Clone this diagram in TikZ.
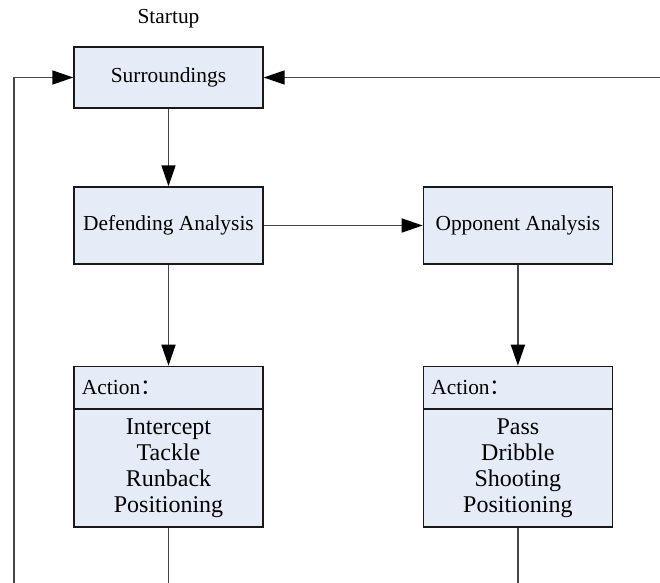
\documentclass[tikz,border=0pt]{standalone}
\usepackage{fontspec}
\setmainfont{Liberation Serif}
\newfontfamily\cjk{Noto Sans CJK SC}
\usepackage{tikz}
\usetikzlibrary{positioning}
\usetikzlibrary{arrows.meta}
\definecolor{boxfill}{RGB}{230,236,247}
\definecolor{linegray}{RGB}{70,70,70}
\tikzset{flownode/.style={shape=rectangle, minimum width=94.5pt, draw=black!90, line width=0.7pt, fill=boxfill, inner sep=0pt, font=\fontsize{10.7}{12}\selectfont},
  acthead/.style={flownode, minimum height=21pt, inner xsep=4pt, text width=86.5pt, align=left},
  actbody/.style={flownode, minimum height=58.5pt, align=center, font=\fontsize{12}{12.9}\selectfont},
  flow/.style={draw=linegray, line width=0.8pt, -{Triangle[length=10.5pt, width=7pt, black]}},
  plain/.style={draw=linegray, line width=0.8pt}}

\begin{document}
\begin{tikzpicture}[x=0.5pt, y=-0.5pt]
    \useasboundingbox (0,0) rectangle (660,583);
    \node[font=\fontsize{10.7}{12}\selectfont] (start) at (168.5,19) {Startup};
    \node[flownode, minimum height=30.5pt] (surr) at (168.5,77.5) {Surroundings};
    \node[flownode, minimum height=38.5pt] (defend) at (168.5,225.5) {Defending Analysis};
    \node[flownode, minimum height=38.5pt, right=79.5pt of defend] (oppo) {Opponent Analysis};
    \node[acthead, below=50.5pt of defend] (defact) {Action{\cjk ：}};
    \node[actbody, below=0pt of defact] (deflist) {Intercept\\Tackle\\Runback\\Positioning};
    \node[acthead, below=50.5pt of oppo] (oppact) {Action{\cjk ：}};
    \node[actbody, below=0pt of oppact] (opplist) {Pass\\Dribble\\Shooting\\Positioning};

    \coordinate (backin) at (14,583);
    \coordinate (feedin) at (660,77.5);
    \coordinate (defout) at (deflist.south |- backin);
    \coordinate (oppout) at (opplist.south |- backin);

    \draw[flow] (backin) |- (surr.west);
    \draw[flow] (feedin) -- (surr.east);
    \draw[flow] (surr) -- (defend);
    \draw[flow] (defend) -- (oppo);
    \draw[flow] (defend) -- (defact);
    \draw[flow] (oppo) -- (oppact);
    \draw[plain] (deflist) -- (defout);
    \draw[plain] (opplist) -- (oppout);
\end{tikzpicture}
\end{document}
